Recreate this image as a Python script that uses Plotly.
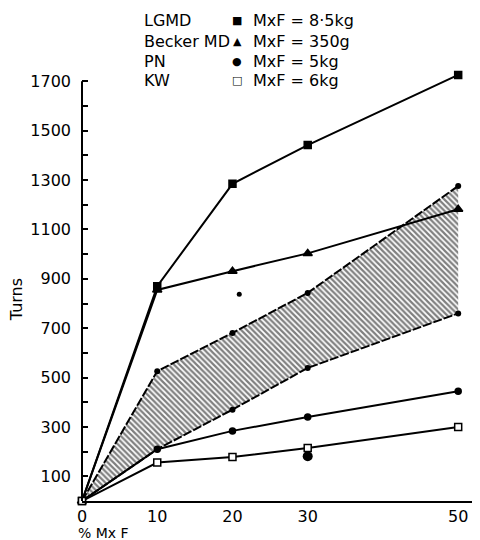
import plotly.graph_objects as go

# ---- data ----
pct_mxf = [0, 10, 20, 30, 50]
lgmd = [0, 870, 1285, 1442, 1726]
becker = [0, 855, 931, 1003, 1182]
range_upper = [0, 526, 681, 843, 1276]
range_lower = [0, 210, 370, 539, 760]
pn = [0, 210, 284, 340, 445]
kw = [0, 156, 178, 215, 300]
extra_big_x = [30]
extra_big_y = [181]
extra_small_x = [20.9]
extra_small_y = [838]

y_tickvals = list(range(100, 1701, 100))
y_ticktext = [str(v) if (v // 100) % 2 == 1 else "" for v in y_tickvals]
x_tickvals = [0, 10, 20, 30, 50]
x_ticktext = ["0", "10", "20", "30", "50"]

legend_names = ["LGMD", "Becker MD", "PN", "KW"]
legend_symbols = ["■", "▲", "●", "□"]
legend_mxf = ["MxF = 8·5kg", "MxF = 350g", "MxF = 5kg", "MxF = 6kg"]

FONT = "DejaVu Sans"
OFF = 8  # page body margin
W, H = 472, 532
Y_MAX = 1750
ML, MR = 74, 3
MB = 532 - (500.7 - OFF)
SCALE = (500.7 - 81.3) / 1700.0
MT = (81.3 - OFF) - (Y_MAX - 1700) * SCALE

fig = go.Figure()

# hatched range
fig.add_trace(go.Scatter(x=pct_mxf, y=range_lower, mode="lines+markers",
                         line=dict(color="black", width=2, dash="9px,2px"),
                         marker=dict(color="black", size=6), showlegend=False))
fig.add_trace(go.Scatter(x=pct_mxf, y=range_upper, mode="lines+markers",
                         line=dict(color="black", width=2, dash="9px,2px"),
                         marker=dict(color="black", size=6),
                         fill="tonexty", fillcolor="rgba(0,0,0,0)",
                         fillpattern=dict(shape="\\", size=4, solidity=0.55,
                                          fgcolor="black", bgcolor="white"),
                         showlegend=False))

def line_trace(y, symbol, size):
    return go.Scatter(x=pct_mxf, y=y, mode="lines+markers",
                      line=dict(color="black", width=2),
                      marker=dict(color="black", size=size, symbol=symbol,
                                  line=dict(color="black", width=1.5)),
                      showlegend=False, cliponaxis=False)

fig.add_trace(line_trace(lgmd, "square", 7))
fig.add_trace(line_trace(becker, "triangle-up", 8))
fig.add_trace(line_trace(pn, "circle", 6))
kw_tr = line_trace(kw, "square", 7)
kw_tr.marker.color = "white"
fig.add_trace(kw_tr)

fig.add_trace(go.Scatter(x=extra_big_x, y=extra_big_y, mode="markers",
                         marker=dict(color="black", size=10), showlegend=False))
fig.add_trace(go.Scatter(x=extra_small_x, y=extra_small_y, mode="markers",
                         marker=dict(color="black", size=5), showlegend=False))

PW = W - ML - MR
PH = H - MT - MB

def px(xp):
    return (xp - OFF - ML) / PW

def py(yp):
    return (H - MB - (yp - OFF)) / PH

ann = []
rows_y = [20.7, 41.7, 61.7, 80]
for i in range(4):
    ann.append(dict(text=legend_names[i], x=px(142), y=py(rows_y[i]), xref="paper", yref="paper",
                    xanchor="left", yanchor="middle", showarrow=False,
                    font=dict(family=FONT, size=16, color="black")))
    ann.append(dict(text=legend_symbols[i], x=px(237), y=py(rows_y[i]), xref="paper", yref="paper",
                    xanchor="center", yanchor="middle", showarrow=False,
                    font=dict(family=FONT, size=11, color="black")))
    ann.append(dict(text=legend_mxf[i], x=px(251), y=py(rows_y[i]), xref="paper", yref="paper",
                    xanchor="left", yanchor="middle", showarrow=False,
                    font=dict(family=FONT, size=16, color="black")))

ann.append(dict(text="Turns", x=px(16), y=py(300), xref="paper", yref="paper",
                textangle=-90, showarrow=False, xanchor="center", yanchor="middle",
                font=dict(family=FONT, size=16, color="black")))
ann.append(dict(text="% Mx F", x=px(76), y=py(533), xref="paper", yref="paper",
                showarrow=False, xanchor="left", yanchor="middle",
                font=dict(family=FONT, size=14, color="black")))

# y axis line only from 0 to 1700
shapes = [dict(type="line", xref="paper", yref="y", x0=0, x1=0, y0=0, y1=1700,
               line=dict(color="black", width=2))]

fig.update_layout(
    width=W, height=H,
    margin=dict(l=ML, r=MR, t=MT, b=MB),
    plot_bgcolor="white", paper_bgcolor="white",
    annotations=ann, shapes=shapes,
    font=dict(family=FONT, size=16, color="black"),
)
fig.update_xaxes(range=[0, 52.5], showgrid=False, zeroline=False,
                 showline=True, linecolor="black", linewidth=2,
                 tickvals=x_tickvals, ticktext=x_ticktext, ticks="",
                 tickfont=dict(family=FONT, size=16, color="black"))
fig.update_yaxes(range=[0, Y_MAX], showgrid=False, zeroline=False,
                 showline=False,
                 tickvals=y_tickvals, ticktext=y_ticktext, ticks="inside",
                 ticklen=6, tickwidth=1.5, tickcolor="black",
                 ticklabelstandoff=10,
                 tickfont=dict(family=FONT, size=16, color="black"))

fig.write_html("out.html")
